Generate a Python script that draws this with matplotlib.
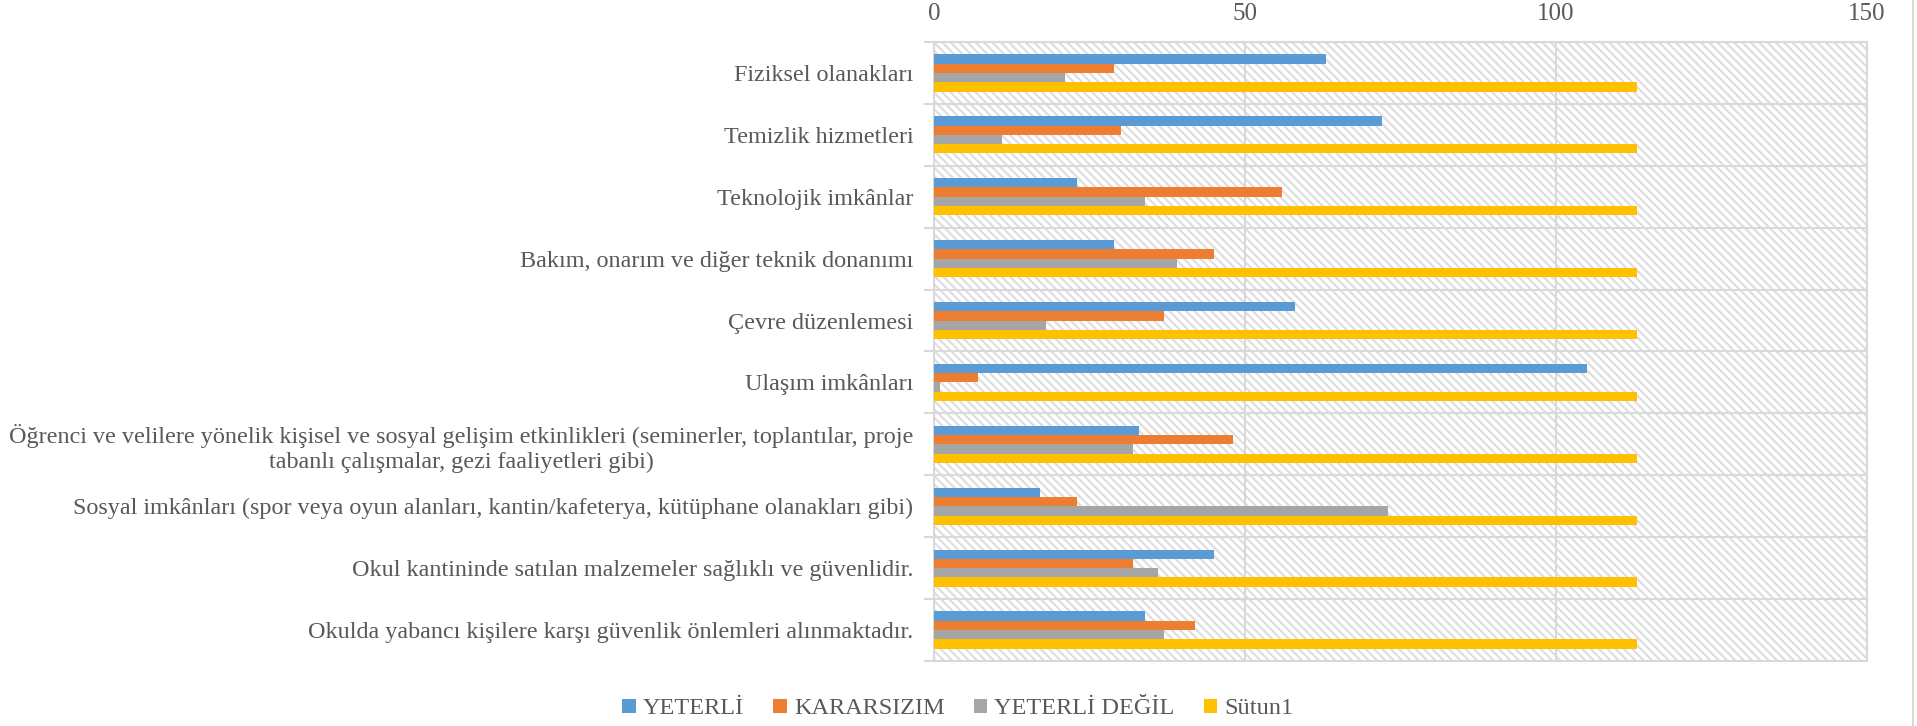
import numpy as np
import matplotlib.pyplot as plt
from matplotlib.lines import Line2D

categories = [
    "Fiziksel olanakları",
    "Temizlik hizmetleri",
    "Teknolojik imkânlar",
    "Bakım, onarım ve diğer teknik donanımı",
    "Çevre düzenlemesi",
    "Ulaşım imkânları",
    "Öğrenci ve velilere yönelik kişisel ve sosyal gelişim etkinlikleri (seminerler, toplantılar, proje\ntabanlı çalışmalar, gezi faaliyetleri gibi)",
    "Sosyal imkânları (spor veya oyun alanları, kantin/kafeterya, kütüphane olanakları gibi)",
    "Okul kantininde satılan malzemeler sağlıklı ve güvenlidir.",
    "Okulda yabancı kişilere karşı güvenlik önlemleri alınmaktadır.",
]
yeterli = [63, 72, 23, 29, 58, 105, 33, 17, 45, 34]
kararsizim = [29, 30, 56, 45, 37, 7, 48, 23, 32, 42]
yeterli_degil = [21, 11, 34, 39, 18, 1, 32, 73, 36, 37]
sutun1 = [113, 113, 113, 113, 113, 113, 113, 113, 113, 113]

series = [
    ("YETERLİ", yeterli, "#5B9BD5"),
    ("KARARSIZIM", kararsizim, "#ED7D31"),
    ("YETERLİ DEĞİL", yeterli_degil, "#A5A5A5"),
    ("Sütun1", sutun1, "#FFC000"),
]

plt.rcParams["font.family"] = ["Liberation Serif", "DejaVu Serif"]
plt.rcParams["hatch.linewidth"] = 1.5
text_color = "#595959"
grid_color = "#D9D9D9"

fig = plt.figure(figsize=(19.17, 7.26), dpi=100)
ax = fig.add_axes([934 / 1917, 1 - 661 / 726, (1867 - 934) / 1917, (661 - 42) / 726])

# hatched plot area
bg = plt.Rectangle((0, 0), 1, 1, transform=ax.transAxes, facecolor="white",
                   edgecolor="#DDDDDD", linewidth=0, hatch="\\\\\\\\", zorder=0)
ax.add_patch(bg)

y = np.arange(len(categories))
h = 0.15
for i, (name, vals, col) in enumerate(series):
    ax.barh(y - 1.5 * h + i * h, vals, height=h, color=col, label=name, zorder=3)

ax.set_xlim(0, 150)
ax.set_ylim(len(categories) - 0.5, -0.5)
ax.xaxis.tick_top()
ax.set_xticks([0, 50, 100, 150])
ax.set_yticks(y)
ax.set_yticklabels(categories, ha="right", multialignment="center")
ax.set_yticks(np.arange(-0.5, len(categories), 1), minor=True)

ax.tick_params(axis="x", length=0, pad=12, labelsize=18, labelcolor=text_color)
ax.tick_params(axis="y", which="major", length=0, pad=15, labelsize=17.4, labelcolor=text_color)
ax.tick_params(axis="y", which="minor", length=7, color=grid_color, width=1.5)

ax.grid(axis="x", color=grid_color, linewidth=1.5, zorder=1)
ax.grid(axis="y", which="minor", color=grid_color, linewidth=1.5, zorder=1)
ax.grid(axis="y", which="major", visible=False)
for s in ax.spines.values():
    s.set_color(grid_color)
    s.set_linewidth(1.5)

fig.legend(loc="center", bbox_to_anchor=(958 / 1917, 1 - 709 / 726), ncol=4,
           frameon=False, fontsize=17.5, labelcolor=text_color, handlelength=0.55,
           handleheight=0.55, handletextpad=0.3, columnspacing=1.2)

fig.add_artist(Line2D([1913 / 1917, 1913 / 1917], [0, 1], color=grid_color, linewidth=1.5))

fig.savefig("out.png", dpi=100)
